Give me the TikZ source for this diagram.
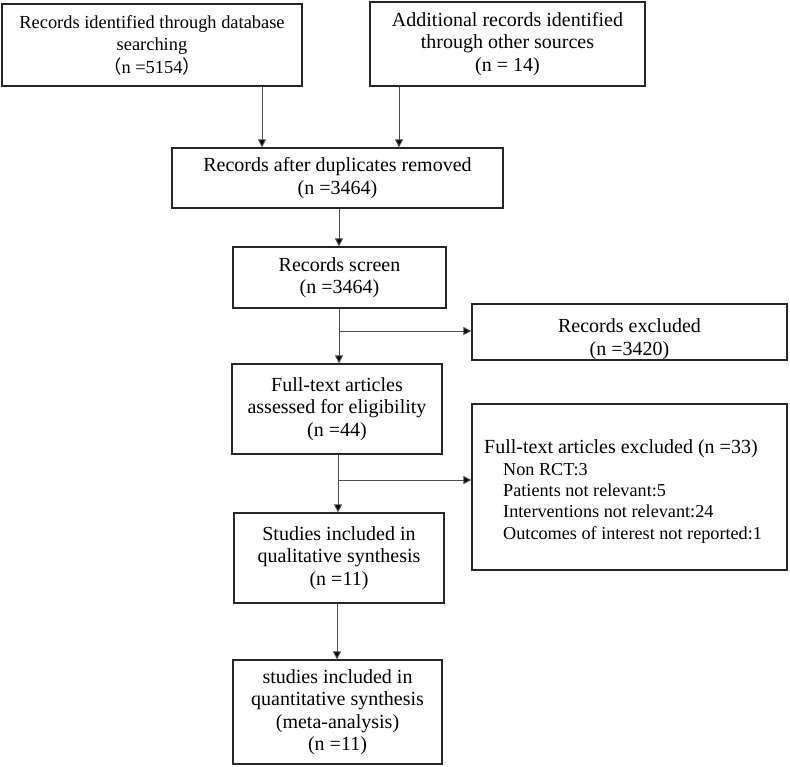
\documentclass[tikz,border=0pt]{standalone}
\usepackage{fontspec}
\setmainfont{Liberation Serif}
\newfontfamily\cjk{Noto Sans CJK SC}
\usetikzlibrary{arrows.meta,calc}
\newcommand\subline[1]{\hspace*{19pt}{\fontsize{18.2}{21.3}\selectfont #1}}
\begin{document}
\begin{tikzpicture}[x=1pt,y=-1pt,
  box/.style={draw=black!85,line width=1.3pt,inner sep=0pt,align=center,
    font=\fontsize{20}{22.5}\selectfont},
  txt/.style={inner sep=0pt,align=center,font=\fontsize{20}{22.5}\selectfont},
  conn/.style={draw=black!70,line width=1pt},
  arr/.style={conn,-{Triangle[length=8pt,width=8pt,fill=black]}}]
\useasboundingbox (0,0) rectangle (790,766);
\node[box,minimum width=300,minimum height=82,font=\fontsize{18.4}{22.5}\selectfont] (A) at (152,45)
  {Records identified through database\\searching\\{\cjk （}n =5154{\cjk ）}};
\node[box,minimum width=275,minimum height=84] (B) at (507.5,44)
  {Additional records identified\\through other sources\\(n = 14)};
\node[box,minimum width=331,minimum height=60] (C) at (337.5,178)
  {Records after duplicates removed\\(n =3464)};
\node[box,minimum width=213,minimum height=61] (D) at (339.5,277.5)
  {Records screen\\(n =3464)};
\node[box,minimum width=315,minimum height=56] (F) at (629.5,332) {};
\node[txt] (Ft) at (629.5,339) {Records excluded\\(n =3420)};
\node[box,minimum width=210,minimum height=90] (E) at (337,409)
  {Full-text articles\\assessed for eligibility\\(n =44)};
\node[box,minimum width=315,minimum height=166] (H) at (629.5,487) {};
\node[txt,anchor=west,align=left,font=\fontsize{20}{21.3}\selectfont] (Ht) at (484,491.5)
  {Full-text articles excluded (n =33)\\
   \subline{Non RCT:3}\\
   \subline{Patients not relevant:5}\\
   \subline{Interventions not relevant:24}\\
   \subline{Outcomes of interest not reported:1}};
\node[box,minimum width=210,minimum height=90] (G) at (339,558)
  {Studies included in\\qualitative synthesis\\(n =11)};
\node[box,minimum width=209,minimum height=104] (I) at (337.5,712)
  {studies included in\\quantitative synthesis\\(meta-analysis)\\(n =11)};
\coordinate (xa) at (262,0);
\coordinate (xb) at (399,0);
\coordinate (xc) at (339,0);
\coordinate (xe) at (338,0);
\coordinate (xg) at (337,0);
\coordinate (b1) at (339,331);
\coordinate (b2) at (338,480);
\draw[arr] (A.south -| xa) -- (C.north -| xa);
\draw[arr] (B.south -| xb) -- (C.north -| xb);
\draw[arr] (C.south -| xc) -- (D.north -| xc);
\draw[arr] (D.south -| xc) -- (E.north -| xc);
\draw[arr] (b1) -- (F.west |- b1);
\draw[arr] (E.south -| xe) -- (G.north -| xe);
\draw[arr] (b2) -- (H.west |- b2);
\draw[arr] (G.south -| xg) -- (I.north -| xg);
\end{tikzpicture}
\end{document}
